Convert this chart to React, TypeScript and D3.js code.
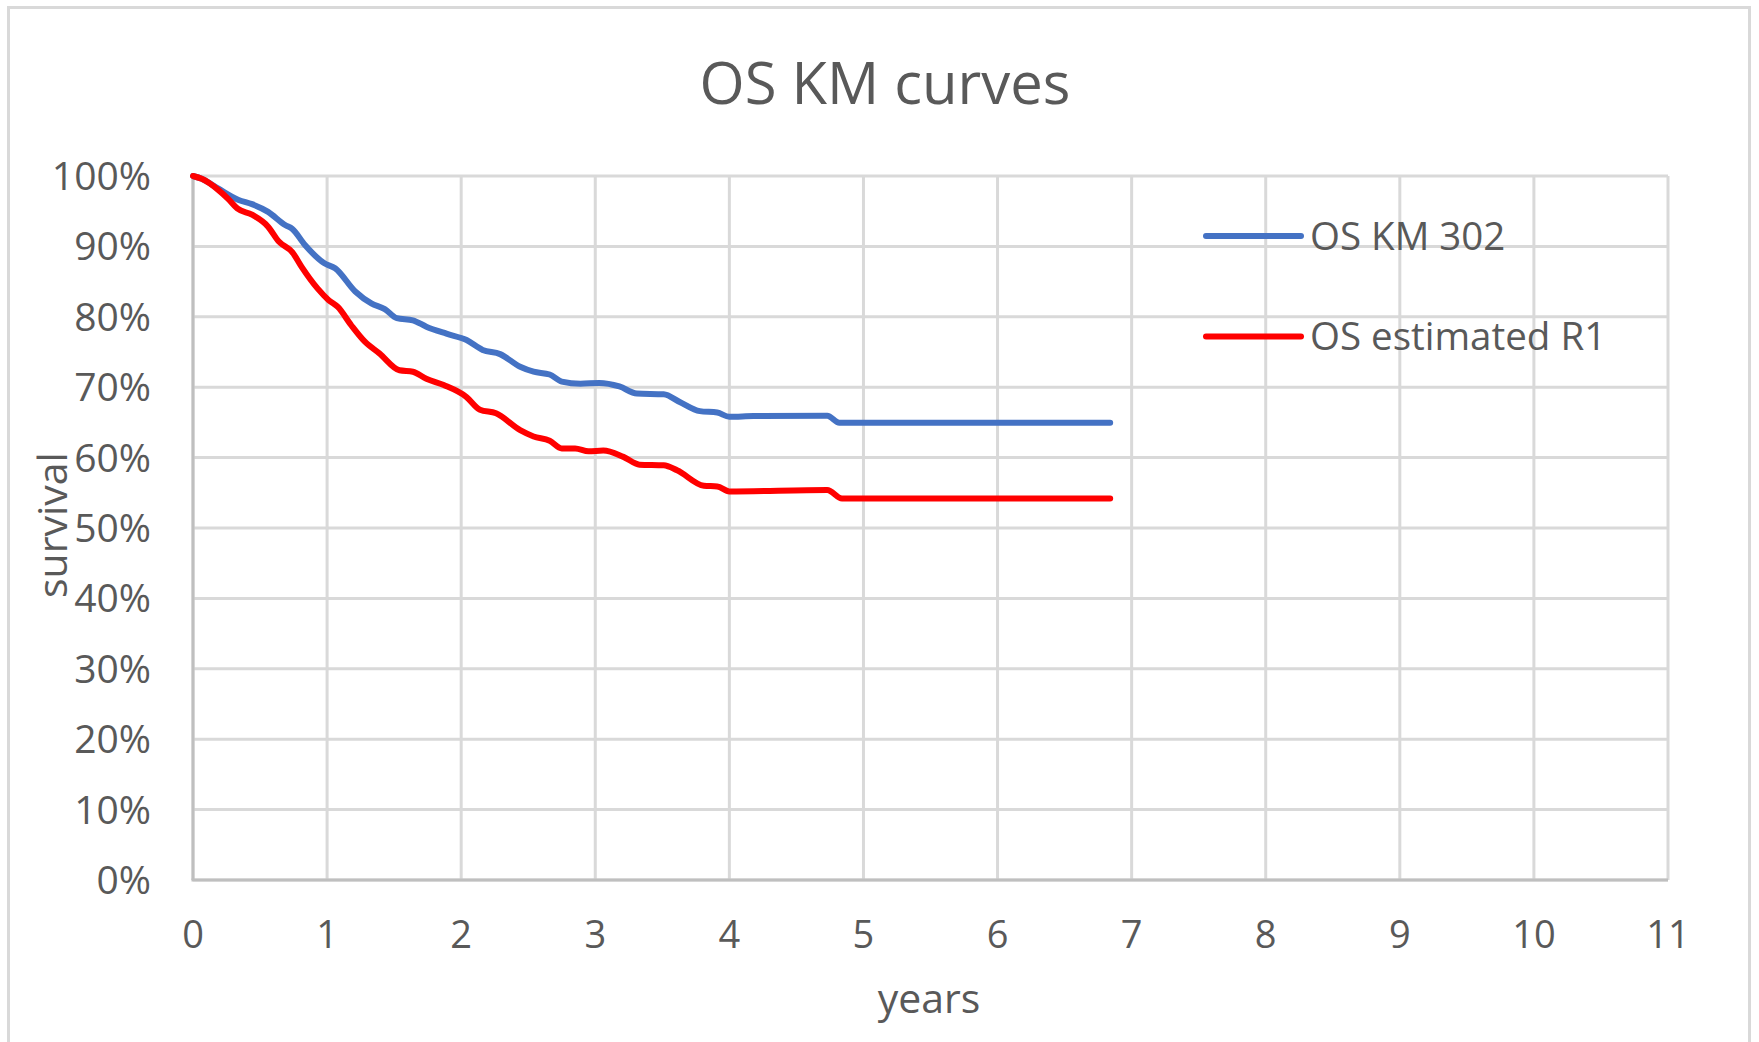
import React from "react";
import * as d3 from "d3";

const W = 1759;
const H = 1042;

const title = "OS KM curves";
const xTicks = [0, 1, 2, 3, 4, 5, 6, 7, 8, 9, 10, 11];
const yTicks = [0, 0.1, 0.2, 0.3, 0.4, 0.5, 0.6, 0.7, 0.8, 0.9, 1.0];
const seriesNames = ["OS KM 302", "OS estimated R1"];
const seriesColors = ["#4472C4", "#FF0000"];

// years, survival %
const osKm302: [number, number][] = [
  [0, 100], [0.065, 99.6], [0.19, 98.2], [0.34, 96.6], [0.44, 96.0], [0.56, 94.9],
  [0.69, 93.0], [0.74, 92.5], [0.835, 90.2], [0.98, 87.6], [1.06, 86.9], [1.21, 83.6],
  [1.33, 81.9], [1.43, 81.1], [1.52, 79.8], [1.64, 79.5], [1.74, 78.6], [1.89, 77.6],
  [2.04, 76.7], [2.16, 75.3], [2.29, 74.7], [2.44, 72.9], [2.54, 72.2], [2.66, 71.8],
  [2.75, 70.8], [2.89, 70.5], [3.03, 70.6], [3.18, 70.1], [3.31, 69.1], [3.51, 69.0],
  [3.63, 67.9], [3.78, 66.6], [3.91, 66.4], [4.0, 65.8], [4.18, 65.9], [4.73, 65.95],
  [4.82, 64.95], [6.84, 64.95],
];

const osEstimatedR1: [number, number][] = [
  [0, 100], [0.065, 99.6], [0.19, 98.0], [0.26, 96.8], [0.33, 95.4], [0.44, 94.5],
  [0.56, 92.8], [0.64, 90.7], [0.74, 89.2], [0.81, 87.1], [0.93, 84.0], [1.01, 82.4],
  [1.08, 81.4], [1.18, 78.8], [1.28, 76.5], [1.39, 74.8], [1.54, 72.4], [1.64, 72.2],
  [1.74, 71.2], [1.87, 70.3], [2.04, 68.6], [2.14, 66.8], [2.26, 66.3], [2.44, 63.9],
  [2.54, 63.0], [2.66, 62.4], [2.75, 61.3], [2.85, 61.3], [2.95, 60.9], [3.06, 61.0],
  [3.21, 60.1], [3.33, 59.0], [3.51, 58.9], [3.61, 58.2], [3.81, 56.0], [3.91, 55.9],
  [4.0, 55.2], [4.73, 55.4], [4.84, 54.2], [6.84, 54.2],
];

const allSeries = [osKm302, osEstimatedR1];

const FONT = "'Open Sans', sans-serif";
const TXT = "#595959";

export default function App() {
  const x = d3.scaleLinear().domain([0, 11]).range([193, 1668]);
  const y = d3.scaleLinear().domain([0, 1]).range([880, 176]);
  const line = d3
    .line<[number, number]>()
    .x((d) => x(d[0]))
    .y((d) => y(d[1] / 100))
    .curve(d3.curveMonotoneX);
  const pct = d3.format(".0%");

  return (
    <svg
      width={W}
      height={H}
      style={{ position: "absolute", left: 0, top: 0, background: "#fff" }}
      fontFamily={FONT}
    >
      <rect x={0} y={0} width={W} height={H} fill="#fff" />
      <rect x={8.5} y={7.5} width={1741} height={1100} fill="none" stroke="#d9d9d9" strokeWidth={3} />
      <text x={885} y={104} textAnchor="middle" fontSize={58} fill={TXT}>
        {title}
      </text>
      {/* gridlines */}
      {yTicks.map((t) => (
        <line key={"gy" + t} x1={x(0)} x2={x(11)} y1={y(t)} y2={y(t)} stroke="#d9d9d9" strokeWidth={3} />
      ))}
      {xTicks.map((t) => (
        <line key={"gx" + t} x1={x(t)} x2={x(t)} y1={y(0)} y2={y(1)} stroke="#d9d9d9" strokeWidth={3} />
      ))}
      {/* axes */}
      <line x1={x(0)} x2={x(0)} y1={y(0)} y2={y(1)} stroke="#bfbfbf" strokeWidth={3} />
      <line x1={x(0) - 1.5} x2={x(11)} y1={y(0)} y2={y(0)} stroke="#bfbfbf" strokeWidth={3} />
      {/* tick labels */}
      {yTicks.map((t) => (
        <text key={"ty" + t} x={151} y={y(t)} dy="0.36em" textAnchor="end" fontSize={39} fill={TXT}>
          {pct(t)}
        </text>
      ))}
      {xTicks.map((t) => (
        <text key={"tx" + t} x={x(t)} y={948} textAnchor="middle" fontSize={38} fill={TXT}>
          {t}
        </text>
      ))}
      <text x={929} y={1013} textAnchor="middle" fontSize={41} fill={TXT}>
        years
      </text>
      <text
        transform={`translate(67,525) rotate(-90)`}
        textAnchor="middle"
        fontSize={41}
        fill={TXT}
      >
        survival
      </text>
      {/* series */}
      {allSeries.map((s, i) => (
        <path
          key={"s" + i}
          d={line(s) || ""}
          fill="none"
          stroke={seriesColors[i]}
          strokeWidth={6}
          strokeLinecap="round"
          strokeLinejoin="round"
        />
      ))}
      {/* legend */}
      {seriesNames.map((n, i) => {
        const ly = 236 + i * 100.5;
        return (
          <g key={"lg" + i}>
            <line x1={1206} x2={1301} y1={ly} y2={ly} stroke={seriesColors[i]} strokeWidth={6} strokeLinecap="round" />
            <text x={1310} y={ly} dy="0.36em" fontSize={38.5} fill={TXT}>
              {n}
            </text>
          </g>
        );
      })}
    </svg>
  );
}
